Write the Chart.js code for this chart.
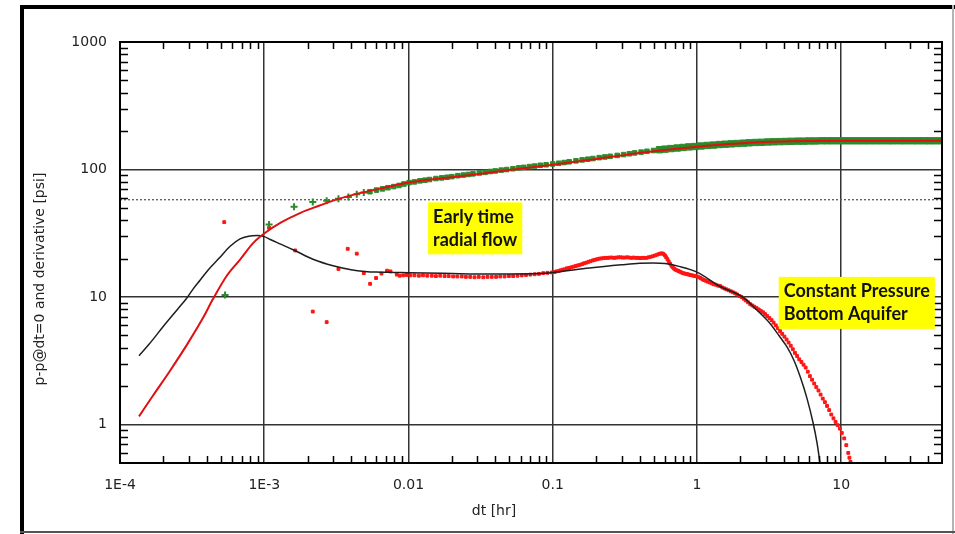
<!DOCTYPE html>
<html>
<head>
<meta charset="utf-8">
<script src="https://cdn.jsdelivr.net/npm/chart.js@4.4.0/dist/chart.umd.min.js"></script>
<style>
  html, body { margin: 0; padding: 0; background: #fff; }
  canvas { display: block; }
</style>
</head>
<body>
<canvas id="plot" width="955" height="534"></canvas>
<script>
// Log-log diagnostic plot: pressure change and derivative against elapsed time,
// measured points with the model curves laid over them.

const X_MIN = 1e-4;
const X_MAX = 50;
const Y_MIN = 0.5;
const Y_MAX = 1000;
const X_TICKS = [1e-4, 1e-3, 0.01, 0.1, 1, 10];
const X_TICK_LABELS = ['1E-4', '1E-3', '0.01', '0.1', '1', '10'];
const Y_TICKS = [1, 10, 100, 1000];
const Y_TICK_LABELS = ['1', '10', '100', '1000'];

// measured pressure change, psi (green)
const dpTime = [
  5.35e-4, 1.08e-3, 1.61e-3, 2.17e-3, 2.71e-3, 3.27e-3, 3.83e-3, 4.38e-3, 4.9e-3, 5.4e-3,
  6.0e-3, 6.6e-3, 7.2e-3, 7.9e-3, 8.6e-3, 9.3e-3, 0.0101, 0.011, 0.012, 0.013,
  0.014, 0.0155, 0.017, 0.0185, 0.02, 0.022, 0.024, 0.026, 0.028, 0.031,
  0.034, 0.037, 0.04, 0.044, 0.048, 0.053, 0.058, 0.063, 0.069, 0.075,
  0.082, 0.09, 0.1, 0.11, 0.12, 0.13, 0.145, 0.16, 0.175, 0.19,
  0.21, 0.23, 0.25, 0.28, 0.31, 0.34, 0.37, 0.41, 0.45, 0.5,
  0.55, 0.6, 0.66, 0.73, 0.8, 0.88, 0.97, 1.07, 1.18, 1.3,
  1.43, 1.57, 1.73, 1.9, 2.1, 2.3, 2.55, 2.8, 3.1, 3.4,
  3.75, 4.1, 4.5, 5.0, 5.5, 6.0, 6.6, 7.3, 8.0, 8.8,
  9.7, 10.7, 11.8, 13, 14.3, 15.7, 17.3, 19, 21, 23,
  25.5, 28, 31, 34, 37.5, 41, 45, 49.5
];
const dpValue = [
  10.4, 37, 51, 55.6, 57, 59, 61, 64, 66, 67,
  69, 70.5, 72, 73.5, 75, 77, 79, 80, 81.5, 82.5,
  83.5, 85, 86, 87, 88, 89.5, 90.5, 91.5, 92.5, 94,
  95, 96.5, 97.5, 99, 100, 101.5, 103, 104, 105.5, 106.5,
  108, 109, 110.5, 112, 113.5, 115, 117, 119, 120.5, 122,
  124, 125.5, 127, 129, 131, 133, 135, 137, 139, 141,
  143, 144.5, 146, 147.5, 149, 150.5, 151.5, 153, 154.5, 155.5,
  157, 158, 159, 160, 161, 162, 163, 163.5, 164.5, 165,
  165.5, 166, 166.5, 167, 167, 167.5, 167.5, 168, 168, 168,
  168, 168, 168, 168, 168, 168, 168, 168, 168, 168,
  168, 168, 168, 168, 168, 168, 168, 168
];

// measured pressure derivative, psi (red dots)
const derivTime = [
  5.28e-4, 1.08e-3, 1.64e-3, 2.17e-3, 2.71e-3, 3.27e-3, 3.79e-3, 4.38e-3, 4.9e-3, 5.42e-3,
  5.96e-3, 6.5e-3, 7.1e-3, 7.5e-3, 8.3e-3, 8.7e-3, 0.0092, 0.0097, 0.0103, 0.011,
  0.0118, 0.0126, 0.0135, 0.0145, 0.0155, 0.0166, 0.0178, 0.019, 0.0204, 0.0218,
  0.0234, 0.025, 0.0268, 0.0287, 0.0307, 0.033, 0.0353, 0.0378, 0.0405, 0.0433,
  0.0464, 0.0497, 0.0532, 0.057, 0.061, 0.0653, 0.07, 0.075, 0.0803, 0.086,
  0.092, 0.0986, 0.103, 0.106, 0.11, 0.113, 0.117, 0.121, 0.125, 0.13,
  0.134, 0.139, 0.144, 0.149, 0.154, 0.16, 0.165, 0.171, 0.177, 0.183,
  0.19, 0.196, 0.203, 0.21, 0.217, 0.225, 0.233, 0.241, 0.249, 0.258,
  0.267, 0.276, 0.286, 0.296, 0.306, 0.317, 0.328, 0.339, 0.351, 0.363,
  0.376, 0.389, 0.403, 0.417, 0.431, 0.446, 0.462, 0.478, 0.495, 0.512,
  0.53, 0.548, 0.562, 0.575, 0.588, 0.6, 0.612, 0.625, 0.637, 0.65,
  0.665, 0.68, 0.695, 0.71, 0.727, 0.745, 0.762, 0.78, 0.8, 0.82,
  0.84, 0.86, 0.88, 0.9, 0.925, 0.95, 0.975, 1.0, 1.03, 1.06,
  1.09, 1.12, 1.155, 1.19, 1.23, 1.27, 1.31, 1.35, 1.4, 1.45,
  1.5, 1.55, 1.6, 1.66, 1.72, 1.78, 1.84, 1.9, 1.97, 2.04,
  2.11, 2.18, 2.26, 2.34, 2.42, 2.5, 2.59, 2.68, 2.77, 2.87,
  2.97, 3.07, 3.18, 3.29, 3.4, 3.52, 3.64, 3.77, 3.9, 4.04,
  4.18, 4.32, 4.47, 4.62, 4.78, 4.95, 5.12, 5.3, 5.48, 5.67,
  5.87, 6.07, 6.28, 6.5, 6.72, 6.96, 7.2, 7.45, 7.71, 7.98,
  8.26, 8.54, 8.84, 9.14, 9.46, 9.79, 10.1, 10.5, 10.85, 11.2,
  11.4, 11.6
];
const derivValue = [
  38.7, 34.9, 23.2, 7.7, 6.36, 16.6, 23.9, 21.9, 15.4, 12.7,
  14.1, 15.3, 16.1, 15.9, 15.0, 14.7, 14.8, 14.9, 14.8, 14.8,
  14.7, 14.8, 14.7, 14.7, 14.6, 14.7, 14.6, 14.6, 14.5, 14.5,
  14.5, 14.4, 14.4, 14.3, 14.4, 14.3, 14.4, 14.4, 14.4, 14.5,
  14.5, 14.6, 14.6, 14.7, 14.8, 14.9, 15.0, 15.1, 15.2, 15.4,
  15.5, 15.6, 15.7, 15.9, 16.0, 16.2, 16.4, 16.5, 16.8, 16.9,
  17.1, 17.3, 17.5, 17.7, 17.9, 18.1, 18.4, 18.6, 18.9, 19.1,
  19.4, 19.6, 19.8, 20.0, 20.1, 20.2, 20.3, 20.3, 20.4, 20.4,
  20.3, 20.4, 20.5, 20.5, 20.4, 20.4, 20.5, 20.4, 20.3, 20.4,
  20.3, 20.3, 20.2, 20.3, 20.3, 20.3, 20.5, 20.7, 20.9, 21.2,
  21.5, 21.8, 22.0, 22.0, 21.7, 21.2, 20.5, 19.8, 19.0, 18.3,
  17.6, 17.1, 16.7, 16.4, 16.2, 16.0, 15.8, 15.6, 15.4, 15.3,
  15.2, 15.1, 15.0, 14.9, 14.8, 14.7, 14.6, 14.5, 14.3, 14.1,
  13.8, 13.6, 13.4, 13.2, 13.0, 12.8, 12.6, 12.5, 12.3, 12.2,
  11.9, 11.7, 11.5, 11.3, 11.1, 10.9, 10.7, 10.5, 10.2, 10.0,
  9.7, 9.4, 9.1, 8.8, 8.6, 8.4, 8.2, 8.0, 7.8, 7.6,
  7.35, 7.1, 6.85, 6.6, 6.3, 6.0, 5.7, 5.4, 5.15, 4.9,
  4.65, 4.4, 4.15, 3.9, 3.65, 3.45, 3.25, 3.1, 2.95, 2.8,
  2.6, 2.4, 2.25, 2.1, 1.97, 1.85, 1.72, 1.6, 1.5, 1.4,
  1.3, 1.2, 1.12, 1.05, 0.99, 0.93, 0.86, 0.78, 0.69, 0.6,
  0.55, 0.51
];

// model pressure change (red line)
const modelDpTime = [
  1.355e-4, 1.7e-4, 2.2e-4, 2.9e-4, 3.8e-4, 4.4e-4, 5.5e-4, 6.8e-4, 8.4e-4, 1e-3,
  1.3e-3, 1.8e-3, 2.4e-3, 3e-3, 4.5e-3, 7e-3, 0.01, 0.02, 0.03, 0.05,
  0.1, 0.2, 0.3, 0.5, 1, 1.5, 2.3, 3, 4.3, 6, 10, 50
];
const modelDpValue = [
  1.16, 1.7, 2.6, 4.2, 7.0, 9.6, 14.7, 19.7, 26.6, 31.5,
  38.3, 46, 52, 57, 65, 72.5, 79, 87, 92, 99,
  109, 121, 129, 139, 151, 157, 162, 164.5, 166.5, 167.5, 168, 168
];

// model pressure derivative (black line)
const modelDerivTime = [
  1.355e-4, 1.6e-4, 2e-4, 2.5e-4, 2.9e-4, 3.2e-4, 3.6e-4, 4.1e-4, 4.9e-4, 5.8e-4,
  6.8e-4, 7.8e-4, 8.9e-4, 1e-3, 1.1e-3, 1.3e-3, 1.6e-3, 2.2e-3, 3e-3, 4e-3,
  5e-3, 6e-3, 0.008, 0.01, 0.02, 0.03, 0.05, 0.08, 0.1, 0.18,
  0.3, 0.4, 0.5, 0.6, 0.75, 1.0, 1.45, 2.1, 2.7, 3.2,
  3.7, 4.2, 4.7, 5.2, 5.8, 6.4, 6.8, 7.15
];
const modelDerivValue = [
  3.47, 4.3, 5.9, 8.0, 9.8, 11.5, 13.6, 16.4, 20.3, 25.0,
  28.6, 30.0, 30.4, 29.8, 28.3, 26.0, 23.4, 19.7, 17.6, 16.4,
  15.9, 15.7, 15.6, 15.5, 15.3, 15.2, 15.2, 15.3, 15.6, 16.9,
  17.9, 18.4, 18.5, 18.3, 17.4, 15.7, 12.1, 9.9, 7.6, 6.24,
  5.0, 4.08, 3.2, 2.37, 1.6, 1.02, 0.72, 0.49
];

// radial flow stabilisation level (dotted)
const radialLevel = 58;

const FONT = "'DejaVu Sans', sans-serif";
const NOTE_FONT = "bold 18px Lato, 'Open Sans', sans-serif";
const TEXT = '#222';
const GRID = '#333';

const NOTES = [
  { x: 0.01368, y: 55.3, lines: ['Early time', 'radial flow'] },
  { x: 3.69, y: 14.4, lines: ['Constant Pressure', 'Bottom Aquifer'] },
];

const xy = (xs, ys) => xs.map((x, i) => ({ x, y: ys[i] }));
const early = ctx => ctx.raw && ctx.raw.x < 0.005;

function minorValues(min, max) {
  const out = [];
  for (let e = Math.floor(Math.log10(min)); e <= Math.ceil(Math.log10(max)); e++) {
    for (let m = 2; m <= 9; m++) {
      const v = m * Math.pow(10, e);
      if (v > min && v < max) out.push(v);
    }
  }
  return out;
}

const decorations = {
  id: 'decorations',
  beforeDraw(chart) {
    const { ctx, width, height } = chart;
    ctx.save();
    ctx.fillStyle = '#fff';
    ctx.fillRect(0, 0, width, height);
    // outer window frame
    ctx.fillStyle = '#000';
    ctx.fillRect(20, 5, 4, height - 5);
    ctx.fillRect(20, 5, width - 20, 4);
    ctx.fillStyle = '#b4b4b4';
    ctx.fillRect(952, 5, 2, height - 5);
    ctx.fillStyle = '#555';
    ctx.fillRect(20, 531, width - 20, 2);
    ctx.restore();
  },
  afterDraw(chart) {
    const { ctx, chartArea: a, scales: { x, y } } = chart;
    ctx.save();

    // inward minor ticks on all four sides
    ctx.strokeStyle = '#000';
    ctx.lineWidth = 1.5;
    ctx.beginPath();
    minorValues(X_MIN, X_MAX).forEach(v => {
      const px = Math.round(x.getPixelForValue(v)) + 0.5;
      ctx.moveTo(px, a.top); ctx.lineTo(px, a.top + 7);
      ctx.moveTo(px, a.bottom); ctx.lineTo(px, a.bottom - 7);
    });
    minorValues(Y_MIN, Y_MAX).forEach(v => {
      const py = Math.round(y.getPixelForValue(v)) + 0.5;
      ctx.moveTo(a.left, py); ctx.lineTo(a.left + 8, py);
      ctx.moveTo(a.right, py); ctx.lineTo(a.right - 8, py);
    });
    ctx.stroke();

    ctx.lineWidth = 2;
    ctx.strokeRect(a.left, a.top, a.right - a.left, a.bottom - a.top);

    // axis titles
    ctx.fillStyle = TEXT;
    ctx.font = '14px ' + FONT;
    ctx.textAlign = 'center';
    ctx.textBaseline = 'middle';
    ctx.fillText('dt [hr]', 494, 511);
    ctx.translate(40, 279);
    ctx.rotate(-Math.PI / 2);
    ctx.fillText('p-p@dt=0 and derivative [psi]', 0, 0);
    ctx.setTransform(1, 0, 0, 1, 0, 0);

    // yellow callouts
    ctx.font = NOTE_FONT;
    ctx.textAlign = 'left';
    const lh = 23;
    NOTES.forEach(n => {
      const left = x.getPixelForValue(n.x);
      const top = y.getPixelForValue(n.y);
      const w = Math.max(...n.lines.map(t => ctx.measureText(t).width)) + 10;
      const h = n.lines.length * lh + 6;
      ctx.fillStyle = '#ffff00';
      ctx.fillRect(left, top, w, h);
      ctx.fillStyle = '#111';
      n.lines.forEach((t, i) => ctx.fillText(t, left + 5, top + 3 + lh / 2 + i * lh));
    });
    ctx.restore();
  },
};

new Chart(document.getElementById('plot'), {
  type: 'scatter',
  data: {
    datasets: [
      {
        label: 'Model pressure',
        data: xy(modelDpTime, modelDpValue),
        showLine: true,
        borderColor: '#e01010',
        borderWidth: 2,
        pointRadius: 0,
        cubicInterpolationMode: 'monotone',
        order: 0,
      },
      {
        label: 'Model derivative',
        data: xy(modelDerivTime, modelDerivValue),
        showLine: true,
        borderColor: '#1e1e1e',
        borderWidth: 1.5,
        pointRadius: 0,
        cubicInterpolationMode: 'monotone',
        order: 1,
      },
      {
        label: 'Pressure',
        data: xy(dpTime, dpValue),
        pointStyle: ctx => early(ctx) ? 'cross' : 'rect',
        pointRadius: ctx => early(ctx) ? 3.5 : (ctx.raw && ctx.raw.x > 0.5 ? 4.5 : 3.2),
        borderWidth: ctx => early(ctx) ? 2 : 1,
        backgroundColor: '#2a8c2a',
        borderColor: '#2a8c2a',
        order: 2,
      },
      {
        label: 'Derivative',
        data: xy(derivTime, derivValue),
        pointStyle: 'rect',
        pointRadius: 2,
        borderWidth: 1,
        backgroundColor: '#ff1414',
        borderColor: '#ff1414',
        order: 3,
      },
      {
        label: 'Radial flow level',
        data: [{ x: X_MIN, y: radialLevel }, { x: X_MAX, y: radialLevel }],
        showLine: true,
        borderColor: '#5a5a5a',
        borderWidth: 1.3,
        borderDash: [2, 2],
        pointRadius: 0,
        order: 4,
      },
    ],
  },
  options: {
    responsive: false,
    animation: false,
    devicePixelRatio: 1,
    layout: { padding: { left: 0, top: 42, right: 13, bottom: 0 } },
    plugins: {
      legend: { display: false },
      tooltip: { enabled: false },
    },
    scales: {
      x: {
        type: 'logarithmic',
        min: X_MIN,
        max: X_MAX,
        afterFit: s => { s.height = 71; },
        afterBuildTicks: s => { s.ticks = X_TICKS.map(value => ({ value })); },
        ticks: {
          autoSkip: false,
          maxRotation: 0,
          padding: 14,
          color: TEXT,
          font: { family: FONT, size: 14 },
          callback: (v, i) => X_TICK_LABELS[i],
        },
        grid: { color: GRID, lineWidth: 1.5, drawTicks: false },
        border: { display: false },
      },
      y: {
        type: 'logarithmic',
        min: Y_MIN,
        max: Y_MAX,
        afterFit: s => { s.width = 120; },
        afterBuildTicks: s => { s.ticks = Y_TICKS.map(value => ({ value })); },
        ticks: {
          autoSkip: false,
          padding: 13,
          color: TEXT,
          font: { family: FONT, size: 14 },
          callback: (v, i) => Y_TICK_LABELS[i],
        },
        grid: { color: GRID, lineWidth: 1.5, drawTicks: false },
        border: { display: false },
      },
    },
  },
  plugins: [decorations],
});
</script>
</body>
</html>
